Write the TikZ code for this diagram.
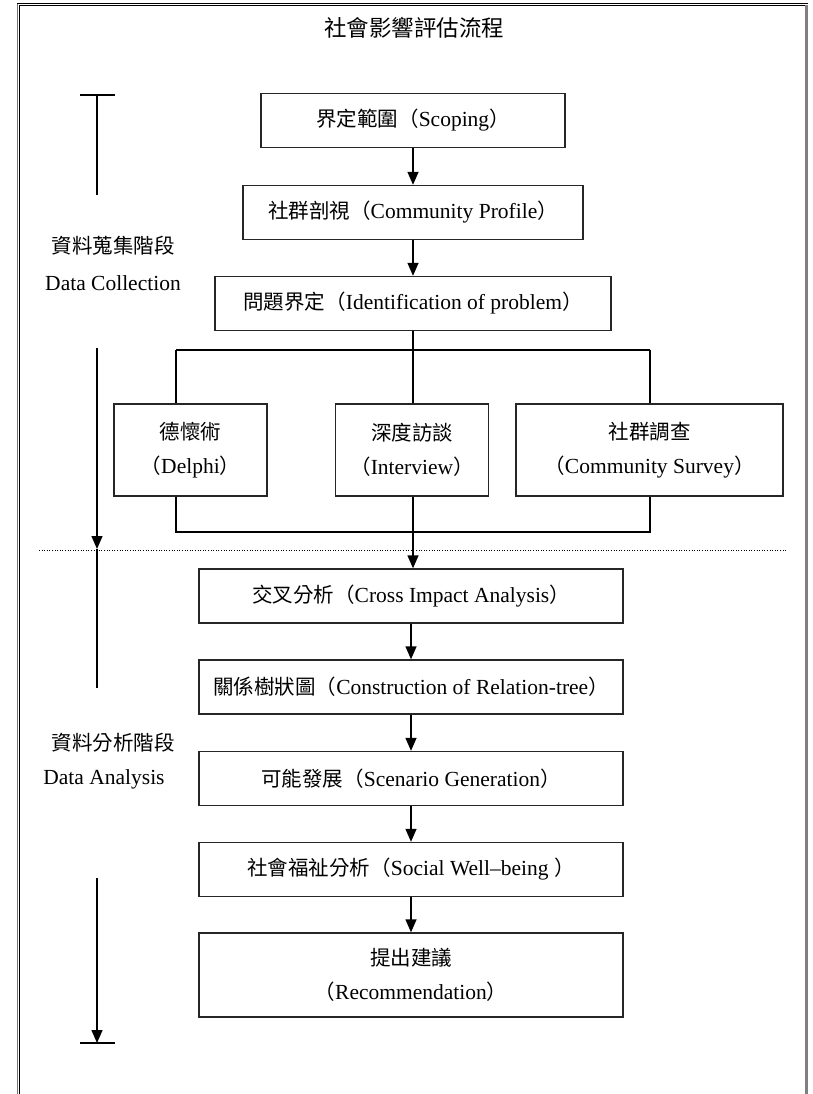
\documentclass[tikz,border=0pt]{standalone}
\usepackage{fontspec}
\setmainfont{Liberation Serif}
\newfontfamily\cjkfont{Noto Sans CJK TC}
\newcommand\zhc[1]{{\cjkfont\fontsize{20.5}{34}\selectfont #1}}
\usetikzlibrary{arrows.meta}
\begin{document}
\begin{tikzpicture}[x=1pt,y=-1pt,
  every node/.style={font=\fontsize{21.5}{34}\selectfont, inner sep=0pt, align=center},
  stepbox/.style={draw=black!85, line width=1.4pt, minimum height=54pt},
  conn/.style={line width=1.4pt, black},
  tip/.style={-{Triangle[length=13pt,width=11pt]}},
  arr/.style={conn, tip},
  marker/.style={line width=1.4pt, black},
]
\useasboundingbox (0,0) rectangle (812,1094);
% page border
\draw[black!55, line width=1pt] (17.5,3) -- (17.5,1094);
\draw[black, line width=1pt] (19.5,5.5) -- (19.5,1094);
\draw[black, line width=1pt] (17,3.5) -- (808,3.5);
\draw[black, line width=1pt] (19.5,5.5) -- (805,5.5);
\draw[black!50, line width=3pt] (806.5,5) -- (806.5,1094);

% title
\node (title) at (414,28) {{\cjkfont\fontsize{22.5}{26}\selectfont 社會影響評估流程}};

% upper chain
\node[stepbox, minimum width=304pt] (b1) at (413,120.5) {\zhc{界定範圍（}Scoping\zhc{）}};
\node[stepbox, minimum width=340pt] (b2) at (413,212.5) {\zhc{社群剖視（}Community Profile\zhc{）}};
\node[stepbox, minimum width=396pt] (b3) at (413,303.5) {\zhc{問題界定（}Identification of problem\zhc{）}};
\draw[arr] (b1.south) -- (b2.north);
\draw[arr] (b2.south) -- (b3.north);

% tree
\node[stepbox, minimum width=153pt, minimum height=92pt] (d1) at (190.5,450) {\zhc{德懷術}\\\zhc{（}Delphi\zhc{）}};
\node[stepbox, minimum width=153pt, minimum height=92pt] (d2) at (412,450) {\zhc{深度訪談}\\\zhc{（}Interview\zhc{）}};
\node[stepbox, minimum width=267pt, minimum height=92pt] (d3) at (649.5,450) {\zhc{社群調查}\\\zhc{（}Community Survey\zhc{）}};
\coordinate (tl) at (176,350);
\coordinate (tr) at (650,350);
\coordinate (bl) at (176,532);
\coordinate (br) at (650,532);
\draw[conn] (b3.south) -- (b3.south |- tl);
\draw[conn] (tl) -- (tr);
\draw[conn] (tl) -- (tl |- d1.north);
\draw[conn] (b3.south |- tl) -- (b3.south |- d2.north);
\draw[conn] (tr) -- (tr |- d3.north);
\draw[conn] (tl |- d1.south) -- (bl) -- (br) -- (tr |- d3.south);

% dotted separator
\coordinate (dl) at (39,550);
\coordinate (dr) at (787,550);
\draw[black, line width=0.9pt, dash pattern=on 1pt off 1.6pt] (dl) -- (dr);

% lower chain
\node[stepbox, minimum width=424pt] (c1) at (411,596) {\zhc{交叉分析（}Cross Impact Analysis\zhc{）}};
\node[stepbox, minimum width=424pt] (c2) at (411,687) {\zhc{關係樹狀圖（}Construction of Relation-tree\zhc{）}};
\node[stepbox, minimum width=424pt] (c3) at (411,778.5) {\zhc{可能發展（}Scenario Generation\zhc{）}};
\node[stepbox, minimum width=424pt] (c4) at (411,869.5) {\zhc{社會福祉分析（}Social Well--being \zhc{）}};
\node[stepbox, minimum width=424pt, minimum height=84pt] (c5) at (411,975) {\zhc{提出建議}\\\zhc{（}Recommendation\zhc{）}};
\draw[arr] (b3.south |- d2.south) -- (b3.south |- c1.north);
\draw[arr] (c1.south) -- (c2.north);
\draw[arr] (c2.south) -- (c3.north);
\draw[arr] (c3.south) -- (c4.north);
\draw[arr] (c4.south) -- (c5.north);

% left phase markers
\coordinate (m1a) at (80,95);
\coordinate (m1b) at (115,95);
\coordinate (m1t) at (97,95);
\coordinate (m1e) at (97,195);
\draw[marker] (m1a) -- (m1b);
\draw[marker] (m1t) -- (m1e);

\coordinate (m2s) at (97,348);
\coordinate (m2t) at (97,549);
\coordinate (m2e) at (97,688);
\draw[marker, tip] (m2s) -- (m2t);
\draw[marker] (m2t) -- (m2e);

\coordinate (m3s) at (97,878);
\coordinate (m3t) at (97,1043);
\coordinate (m3a) at (80,1043);
\coordinate (m3b) at (115,1043);
\draw[marker, tip] (m3s) -- (m3t);
\draw[marker] (m3a) -- (m3b);

% phase labels
\node (p1) at (113,246) {\zhc{資料蒐集階段}};
\node (p1e) at (113,283) {Data Collection};
\node (p2) at (113,743) {\zhc{資料分析階段}};
\node (p2e) at (104,779) {Data Analysis};
\end{tikzpicture}
\end{document}
